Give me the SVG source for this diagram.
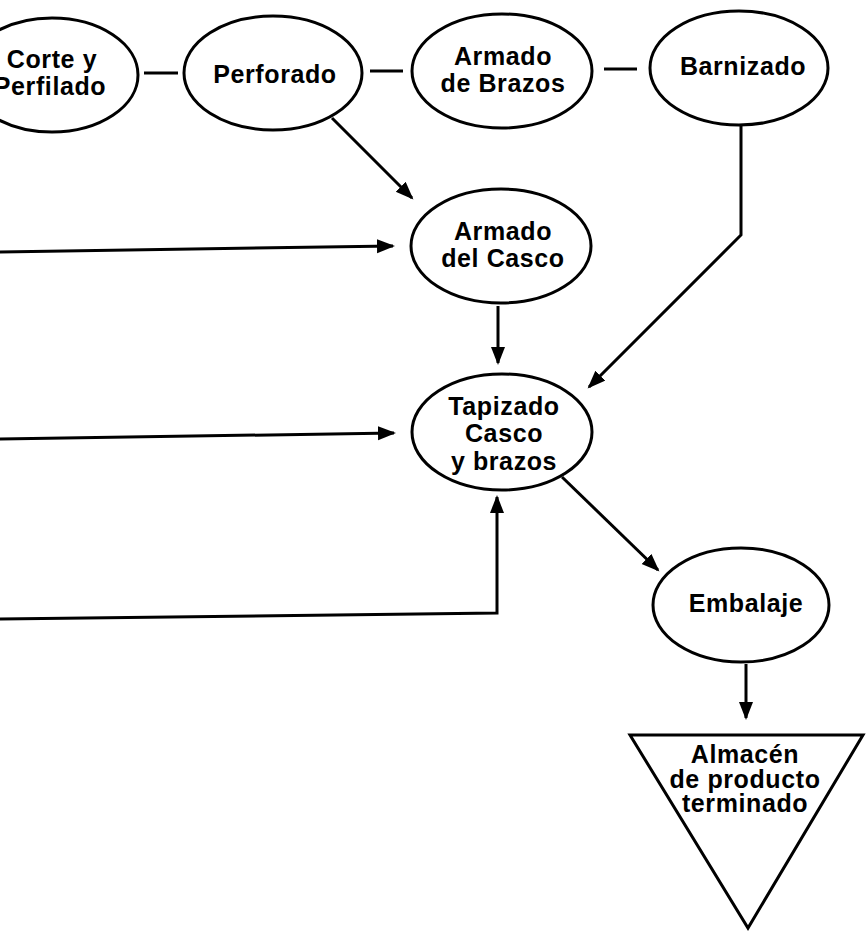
<svg xmlns="http://www.w3.org/2000/svg" width="867" height="935" viewBox="0 0 867 935">
<style>
.n{fill:#fff;stroke:#000;stroke-width:3}
.t{font-family:"Liberation Sans",Arial,sans-serif;font-weight:bold;font-size:25px;letter-spacing:0.6px;fill:#000;text-anchor:middle}
.c{fill:none;stroke:#000;stroke-width:3}
.a{marker-end:url(#ah)}
</style>
<defs>
<marker id="ah" markerUnits="userSpaceOnUse" markerWidth="20" markerHeight="16" refX="16" refY="7" orient="auto" viewBox="0 0 20 16">
<path d="M0,0 L18,7 L0,14 z" fill="#000"/>
</marker>
</defs>
<rect width="867" height="935" fill="#fff"/>
<g id="connectors">
<line class="c" x1="144" y1="73" x2="178" y2="73"/>
<line class="c" x1="370" y1="71" x2="403" y2="71"/>
<line class="c" x1="604" y1="69" x2="637" y2="69"/>
<line class="c a" x1="332" y1="118" x2="412" y2="198"/>
<line class="c a" x1="0" y1="252" x2="393" y2="246"/>
<line class="c a" x1="498" y1="306" x2="498" y2="363"/>
<polyline class="c a" points="741,125 741,235 589,387"/>
<line class="c a" x1="0" y1="439" x2="394" y2="433"/>
<polyline class="c a" points="0,619 497,613 497,497"/>
<line class="c a" x1="562" y1="477" x2="658" y2="570"/>
<line class="c a" x1="746" y1="664" x2="746" y2="718"/>
</g>
<g id="corte">
<ellipse class="n" cx="52" cy="75" rx="86" ry="57"/>
<text class="t" x="52" y="68">Corte y</text>
<text class="t" x="50" y="95">Perfilado</text>
</g>
<g id="perforado">
<ellipse class="n" cx="273" cy="73" rx="89" ry="57"/>
<text class="t" x="275" y="83">Perforado</text>
</g>
<g id="armado-brazos">
<ellipse class="n" cx="502" cy="71" rx="90" ry="57"/>
<text class="t" x="503" y="65">Armado</text>
<text class="t" x="503" y="92">de Brazos</text>
</g>
<g id="barnizado">
<ellipse class="n" cx="739" cy="68" rx="89" ry="57"/>
<text class="t" x="743" y="75">Barnizado</text>
</g>
<g id="armado-casco">
<ellipse class="n" cx="501" cy="246" rx="90" ry="57"/>
<text class="t" x="503" y="240">Armado</text>
<text class="t" x="503" y="267">del Casco</text>
</g>
<g id="tapizado">
<ellipse class="n" cx="502" cy="432" rx="90" ry="58"/>
<text class="t" x="504" y="415">Tapizado</text>
<text class="t" x="504" y="442">Casco</text>
<text class="t" x="504" y="470">y brazos</text>
</g>
<g id="embalaje">
<ellipse class="n" cx="741" cy="605" rx="88" ry="57"/>
<text class="t" x="746" y="612">Embalaje</text>
</g>
<g id="almacen">
<polygon class="n" points="630,735 863,735 748,928"/>
<text class="t" x="745" y="763">Almacén</text>
<text class="t" x="745" y="788">de producto</text>
<text class="t" x="745" y="812">terminado</text>
</g>
</svg>
